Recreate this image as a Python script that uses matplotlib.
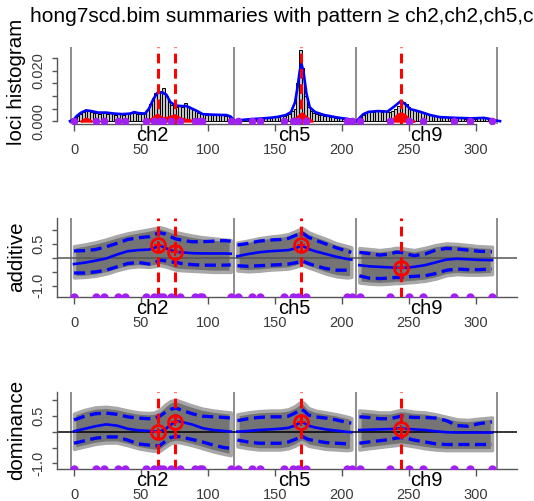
import matplotlib
matplotlib.use('Agg')
import matplotlib.pyplot as plt
import numpy as np

plt.rcParams['font.family'] = ['Liberation Sans', 'DejaVu Sans']
plt.rcParams['lines.scale_dashes'] = False

# chromosome layout on the combined cM axis
chroms = ['ch2', 'ch5', 'ch9']
chrom_start = [0, 122, 213]
chrom_end = [117, 207.4, 312.4]
chrom_breaks = [-2.5, 119.5, 210.3, 315.5]
qtl_pos = [63, 75.4, 169.8, 244.2]
markers = [0, 16.4, 22.6, 32.5, 38, 53.6, 59.8, 64.3, 66.7, 72.7, 78.9, 90, 94, 95.3,
           116.9, 122.3, 133, 139.2, 156.6, 163.5, 167.2, 173.4, 203.7, 207.4,
           213.2, 236, 250.4, 260.3, 283.6, 295.5, 312.4]

# loci histogram, 2 cM bins from each chromosome start
hist_ch2 = [0.0012, 0.0022, 0.0030, 0.0036, 0.0042, 0.0046, 0.0036, 0.0032, 0.0034, 0.0030,
            0.0036, 0.0034, 0.0030, 0.0032, 0.0030, 0.0026, 0.0030, 0.0028, 0.0026, 0.0030,
            0.0032, 0.0038, 0.0034, 0.0028, 0.0030, 0.0028, 0.0034, 0.0046, 0.0068, 0.0094,
            0.0110, 0.0112, 0.0118, 0.0130, 0.0100, 0.0078, 0.0064, 0.0060, 0.0058, 0.0062,
            0.0058, 0.0072, 0.0060, 0.0052, 0.0046, 0.0040, 0.0034, 0.0030, 0.0028, 0.0026,
            0.0028, 0.0026, 0.0024, 0.0026, 0.0024, 0.0026, 0.0022, 0.0020, 0.0012]
hist_ch5 = [0.0004, 0.0006, 0.0006, 0.0008, 0.0008, 0.0008, 0.0010, 0.0010, 0.0010, 0.0012,
            0.0012, 0.0014, 0.0014, 0.0016, 0.0016, 0.0018, 0.0020, 0.0022, 0.0026, 0.0030,
            0.0040, 0.0050, 0.0150, 0.0284, 0.0210, 0.0100, 0.0055, 0.0040, 0.0032, 0.0028,
            0.0026, 0.0024, 0.0022, 0.0020, 0.0018, 0.0016, 0.0014, 0.0012, 0.0012, 0.0010,
            0.0010, 0.0008, 0.0006]
hist_ch9 = [0.0016, 0.0026, 0.0032, 0.0036, 0.0038, 0.0038, 0.0040, 0.0040, 0.0038, 0.0040,
            0.0038, 0.0036, 0.0040, 0.0050, 0.0060, 0.0072, 0.0076, 0.0068, 0.0056, 0.0048,
            0.0044, 0.0040, 0.0038, 0.0036, 0.0032, 0.0030, 0.0026, 0.0024, 0.0022, 0.0020,
            0.0018, 0.0016, 0.0016, 0.0014, 0.0014, 0.0012, 0.0012, 0.0012, 0.0012, 0.0010,
            0.0010, 0.0012, 0.0010, 0.0010, 0.0012, 0.0012, 0.0014, 0.0012, 0.0010, 0.0006]
hist_all = [hist_ch2, hist_ch5, hist_ch9]

# blue density curves
dens_pos = [[-3, 0, 2, 5, 9, 13, 18, 24, 30, 36, 42, 45, 48, 53, 56, 59, 62, 66, 69, 72,
             76, 80, 84, 88, 92, 96, 102, 108, 114, 117, 120],
            [120, 124, 130, 138, 146, 152, 158, 162, 165, 167, 168.5, 169.8, 171.5, 173.5,
             176, 180, 187, 197, 204, 208, 211],
            [211, 213, 216, 220, 227, 234, 239, 244, 248, 251, 258, 266, 273, 285, 297, 306,
             311, 314, 318]]
dens_val = [[0, 0.0008, 0.002, 0.0033, 0.0043, 0.004, 0.0034, 0.0034, 0.003, 0.0028, 0.003,
             0.0036, 0.0032, 0.003, 0.005, 0.0085, 0.0112, 0.0114, 0.0105, 0.0075, 0.0062,
             0.006, 0.006, 0.005, 0.004, 0.0028, 0.0026, 0.0025, 0.0024, 0.0018, 0],
            [0, 0.0004, 0.0007, 0.001, 0.0013, 0.0017, 0.0024, 0.0036, 0.0075, 0.014, 0.02,
             0.023, 0.019, 0.011, 0.0055, 0.0036, 0.0024, 0.0014, 0.0009, 0.0004, 0],
            [0, 0.0012, 0.0028, 0.0037, 0.004, 0.0038, 0.0058, 0.008, 0.0065, 0.0048, 0.0038,
             0.0024, 0.0016, 0.0013, 0.0011, 0.0013, 0.0008, 0.0003, 0]]

# red pattern density near the baseline
red_pos = [[5, 7, 9, 11, 13],
           [54, 58, 62, 66, 70, 75, 79, 83, 88, 92],
           [162, 166, 170, 174, 178],
           [234, 238, 241, 244, 247, 250, 254]]
red_val = [[0, 0.0008, 0.0012, 0.0008, 0],
           [0, 0.0012, 0.0028, 0.0014, 0.0016, 0.0026, 0.0014, 0.0008, 0.0004, 0],
           [0, 0.0015, 0.0034, 0.0015, 0],
           [0, 0.0008, 0.0026, 0.0034, 0.0026, 0.0008, 0]]

# effect summaries on a grid per chromosome
grid_pos = [[0, 8, 16, 24, 32, 40, 48, 56, 60, 64, 68, 72, 76, 80, 88, 96, 104, 112, 117],
            [122, 130, 138, 146, 154, 160, 165, 168, 170, 172, 175, 180, 188, 196, 204, 207],
            [213, 220, 228, 236, 240, 244, 248, 254, 262, 270, 278, 286, 294, 302, 312]]

add_mean = [[-0.22, -0.17, -0.1, -0.02, 0.12, 0.24, 0.28, 0.3, 0.36, 0.45, 0.36, 0.28, 0.22,
             0.2, 0.17, 0.16, 0.16, 0.16, 0.15],
            [0.06, 0.14, 0.2, 0.24, 0.26, 0.28, 0.34, 0.4, 0.46, 0.4, 0.32, 0.24, 0.14, 0.04,
             -0.04, -0.06],
            [-0.26, -0.3, -0.32, -0.34, -0.35, -0.36, -0.35, -0.32, -0.26, -0.16, -0.06, -0.03,
             -0.05, -0.07, -0.08]]
add_hi = [[0.25, 0.26, 0.3, 0.4, 0.52, 0.66, 0.72, 0.76, 0.84, 0.9, 0.86, 0.76, 0.68, 0.64,
           0.58, 0.58, 0.6, 0.62, 0.6],
          [0.46, 0.52, 0.6, 0.64, 0.66, 0.7, 0.8, 0.86, 0.9, 0.84, 0.74, 0.64, 0.5, 0.36,
           0.24, 0.2],
          [0.2, 0.16, 0.1, 0.14, 0.2, 0.2, 0.14, 0.08, 0.14, 0.28, 0.34, 0.32, 0.28, 0.24, 0.22]]
add_lo = [[-0.54, -0.54, -0.5, -0.44, -0.32, -0.2, -0.16, -0.22, -0.18, -0.08, -0.1, -0.14,
           -0.16, -0.2, -0.24, -0.26, -0.26, -0.26, -0.25],
          [-0.28, -0.3, -0.28, -0.26, -0.24, -0.22, -0.18, -0.14, -0.1, -0.14, -0.2, -0.28,
           -0.38, -0.44, -0.44, -0.4],
          [-0.64, -0.72, -0.74, -0.72, -0.7, -0.7, -0.68, -0.66, -0.64, -0.56, -0.44, -0.4,
           -0.42, -0.42, -0.4]]
add_top = [[0.42, 0.48, 0.56, 0.66, 0.78, 0.88, 0.95, 1.02, 1.06, 1.1, 1.05, 0.98, 0.92, 0.88,
            0.8, 0.74, 0.7, 0.66, 0.64],
           [0.55, 0.62, 0.7, 0.76, 0.8, 0.85, 0.95, 1.02, 1.08, 1.02, 0.92, 0.82, 0.68, 0.52,
            0.42, 0.38],
           [0.35, 0.32, 0.28, 0.32, 0.36, 0.36, 0.32, 0.28, 0.36, 0.46, 0.52, 0.5, 0.46, 0.42,
            0.4]]
add_bot = [[-0.7, -0.68, -0.64, -0.56, -0.44, -0.34, -0.3, -0.32, -0.3, -0.26, -0.3, -0.36,
            -0.42, -0.44, -0.46, -0.48, -0.5, -0.5, -0.5],
           [-0.45, -0.48, -0.46, -0.42, -0.4, -0.38, -0.32, -0.28, -0.24, -0.28, -0.34, -0.42,
            -0.56, -0.66, -0.7, -0.68],
           [-0.88, -0.92, -0.94, -0.92, -0.9, -0.9, -0.88, -0.86, -0.82, -0.74, -0.62, -0.58,
            -0.6, -0.6, -0.58]]

dom_mean = [[0.02, 0.1, 0.18, 0.24, 0.2, 0.1, 0.05, 0.03, 0.01, 0.01, 0.08, 0.22, 0.34, 0.32,
             0.24, 0.12, 0.06, 0.03, 0.01],
            [0.01, 0.03, 0.06, 0.08, 0.1, 0.13, 0.2, 0.28, 0.32, 0.28, 0.2, 0.14, 0.08, 0.04,
             0.0, -0.01],
            [0.06, 0.07, 0.08, 0.09, 0.1, 0.11, 0.1, 0.08, 0.06, 0.02, -0.01, -0.02, -0.02,
             -0.02, -0.02]]
dom_hi = [[0.38, 0.5, 0.58, 0.6, 0.56, 0.48, 0.44, 0.42, 0.44, 0.5, 0.62, 0.72, 0.76, 0.7,
           0.58, 0.5, 0.48, 0.46, 0.44],
          [0.36, 0.42, 0.46, 0.48, 0.48, 0.5, 0.6, 0.68, 0.72, 0.66, 0.54, 0.48, 0.44, 0.38,
           0.3, 0.28],
          [0.48, 0.46, 0.42, 0.42, 0.46, 0.5, 0.48, 0.46, 0.46, 0.44, 0.36, 0.2, 0.18, 0.26,
           0.32]]
dom_lo = [[-0.36, -0.28, -0.2, -0.16, -0.16, -0.26, -0.38, -0.42, -0.44, -0.44, -0.3, -0.18,
           -0.14, -0.16, -0.24, -0.32, -0.42, -0.5, -0.52],
          [-0.26, -0.32, -0.36, -0.36, -0.36, -0.32, -0.24, -0.18, -0.14, -0.18, -0.24, -0.28,
           -0.34, -0.36, -0.38, -0.38],
          [-0.36, -0.32, -0.28, -0.24, -0.2, -0.18, -0.2, -0.26, -0.32, -0.38, -0.4, -0.4,
           -0.4, -0.4, -0.4]]
dom_top = [[0.58, 0.7, 0.78, 0.8, 0.76, 0.68, 0.62, 0.6, 0.62, 0.7, 0.86, 0.98, 1.02, 0.96,
            0.84, 0.74, 0.68, 0.64, 0.62],
           [0.56, 0.62, 0.66, 0.68, 0.68, 0.72, 0.82, 0.92, 0.96, 0.9, 0.76, 0.68, 0.62, 0.56,
            0.48, 0.44],
           [0.68, 0.66, 0.62, 0.62, 0.66, 0.7, 0.68, 0.64, 0.62, 0.56, 0.48, 0.4, 0.38, 0.42,
            0.46]]
dom_bot = [[-0.54, -0.46, -0.38, -0.34, -0.34, -0.42, -0.52, -0.58, -0.6, -0.6, -0.48, -0.36,
            -0.32, -0.34, -0.42, -0.52, -0.62, -0.7, -0.74],
           [-0.46, -0.52, -0.56, -0.56, -0.56, -0.52, -0.44, -0.36, -0.32, -0.36, -0.44, -0.48,
            -0.54, -0.56, -0.58, -0.56],
           [-0.56, -0.52, -0.48, -0.44, -0.42, -0.4, -0.42, -0.46, -0.52, -0.56, -0.58, -0.58,
            -0.58, -0.58, -0.58]]

add_qtl = [0.47, 0.2, 0.46, -0.37]
dom_qtl = [0.0, 0.33, 0.31, 0.1]

AXC = '#555555'
W, H = 534, 501
fig = plt.figure(figsize=(W / 100, H / 100), dpi=100)


def panel(top, bottom):
    return fig.add_axes([57 / W, 1 - bottom / H, 460 / W, (bottom - top) / H])


def style(ax, yticks, ylabels):
    ax.set_xlim(-12.7, 330.7)
    for s in ['top', 'right']:
        ax.spines[s].set_visible(False)
    for s in ['left', 'bottom']:
        ax.spines[s].set_color(AXC)
        ax.spines[s].set_linewidth(1.0)
    ax.set_xticks(range(0, 301, 50))
    ax.set_yticks(yticks)
    ax.set_yticklabels(ylabels, rotation=90, va='center')
    ax.tick_params(axis='x', length=5, width=1, colors=AXC, labelcolor='#3a3a3a',
                   labelsize=10.5, pad=8.5)
    ax.tick_params(axis='y', length=3.6, width=1, colors=AXC, labelcolor='#3a3a3a',
                   labelsize=10.5, pad=5)
    for b in chrom_breaks:
        ax.axvline(b, color='#8c8c8c', lw=1.4, zorder=0.5)
    for name, s, e in zip(chroms, chrom_start, chrom_end):
        ax.annotate(name, xy=((s + e) / 2, 0), xycoords=('data', 'axes fraction'),
                    xytext=(0, -8.5), textcoords='offset points', ha='center', va='center',
                    fontsize=14.5, color='black', annotation_clip=False)


def red_lines(ax):
    for q in qtl_pos:
        ax.axvline(q, color='red', lw=2.2, linestyle=(0, (7, 4)), zorder=4)


# top: loci histogram
ax1 = panel(47, 124)
ax1.set_ylim(-0.00114, 0.0295)
style(ax1, [0, 0.005, 0.01, 0.015, 0.02, 0.025], ['0.000', '', '', '', '0.020', ''])
ax1.spines['left'].set_bounds(0, 0.025)
ax1.spines['bottom'].set_bounds(0, 300)
for start, vals in zip(chrom_start, hist_all):
    centers = start + 1 + 2 * np.arange(len(vals))
    ax1.bar(centers, vals, width=2, color='#c4c4c4', edgecolor='black', linewidth=0.7,
            zorder=1)
red_lines(ax1)
for p, v in zip(dens_pos, dens_val):
    ax1.plot(p, v, color='blue', lw=1.9, zorder=3)
for p, v in zip(red_pos, red_val):
    ax1.fill_between(p, 0, v, color='red', lw=1.5, zorder=3.5)
ax1.plot(markers, np.zeros(len(markers)), 'o', color='#a020f0', ms=4.5, zorder=5)


def effect_panel(ax, ylim, mean, lo, hi, top, bot, qtl, zero_color):
    ax.set_ylim(*ylim)
    style(ax, [-1, -0.5, 0, 0.5, 1], ['-1.0', '', '', '0.5', ''])
    for p, t, b in zip(grid_pos, top, bot):
        ax.fill_between(p, b, t, facecolor='#747474', edgecolor='#a8a8a8', lw=2.5, zorder=1)
    ax.axhline(0, color=zero_color, lw=1.1, zorder=2)
    for p, m, l, h in zip(grid_pos, mean, lo, hi):
        ax.plot(p, m, color='blue', lw=1.9, zorder=3)
        ax.plot(p, l, color='blue', lw=2.4, linestyle=(0, (8, 4)), zorder=3)
        ax.plot(p, h, color='blue', lw=2.4, linestyle=(0, (8, 4)), zorder=3)
    red_lines(ax)
    ax.plot(qtl_pos, qtl, 'o', mfc='none', mec='red', ms=10, mew=2, zorder=6)
    ax.plot(qtl_pos, qtl, '+', color='red', ms=6, mew=1.5, zorder=6)
    ax.plot(markers, np.full(len(markers), ylim[0]), 'o', color='#a020f0', ms=5, zorder=5)


ax2 = panel(218, 297)
effect_panel(ax2, (-1.40, 1.43), add_mean, add_lo, add_hi, add_top, add_bot, add_qtl, '#555555')
ax3 = panel(392, 469)
effect_panel(ax3, (-1.18, 1.27), dom_mean, dom_lo, dom_hi, dom_top, dom_bot, dom_qtl, 'black')

ylab = dict(rotation=90, ha='center', va='center', fontsize=14.8)
fig.text(17 / W, 1 - 82 / H, 'loci histogram', **ylab)
fig.text(17 / W, 1 - 257 / H, 'additive', **ylab)
fig.text(17 / W, 1 - 430 / H, 'dominance', **ylab)
# the title runs past the right edge, as in the original
fig.text(30 / W, 1 - 16 / H, 'hong7scd.bim summaries with pattern \u2265 ch2,ch2,ch5,ch9',
         ha='left', va='center', fontsize=15)

fig.savefig('out.png', dpi=100)
